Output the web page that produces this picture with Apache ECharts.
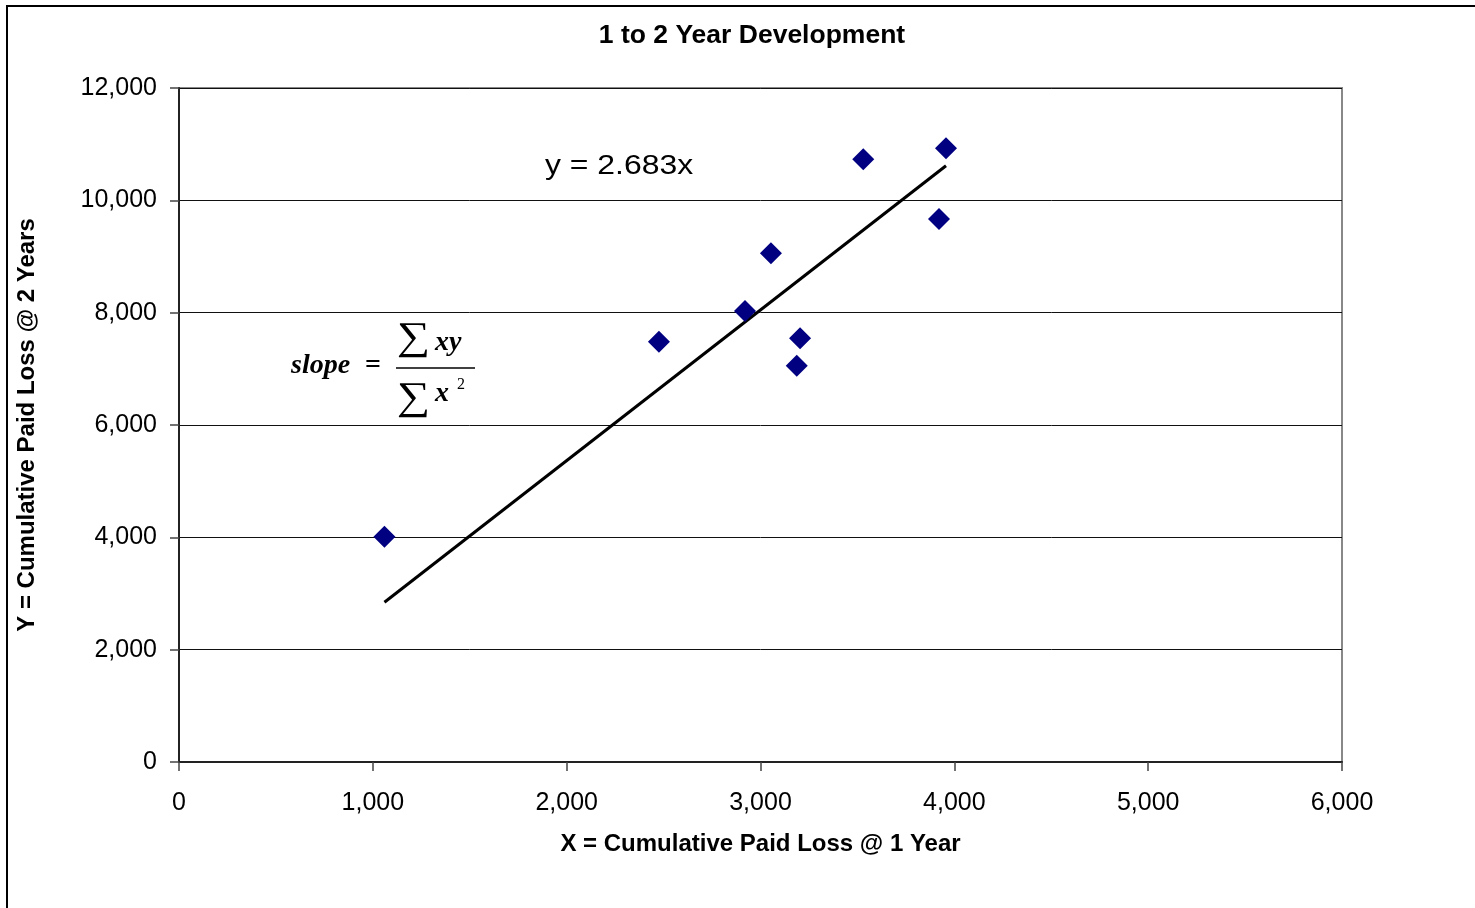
<!DOCTYPE html>
<html>
<head>
<meta charset="utf-8">
<script src="https://cdn.jsdelivr.net/npm/echarts@6/dist/echarts.min.js"></script>
<style>html,body{margin:0;padding:0;background:#fff}#chart{width:1475px;height:908px}</style>
</head>
<body>
<div id="chart"></div>
<script>
// Data
const xValues = [1060, 2476, 2920, 3054, 3204, 3187, 3530, 3921, 3957];
const yValues = [4010, 7483, 8030, 9057, 7544, 7056, 10731, 9668, 10926];
const slope = 2.683;
const xTicks = [0, 1000, 2000, 3000, 4000, 5000, 6000];
const yTicks = [0, 2000, 4000, 6000, 8000, 10000, 12000];
const titleText = '1 to 2 Year Development';
const xTitle = 'X = Cumulative Paid Loss @ 1 Year';
const yTitle = 'Y = Cumulative Paid Loss @ 2 Years';
const equationText = 'y = ' + slope + 'x';

const points = xValues.map((x, i) => [x, yValues[i]]);
const xMin = Math.min(...xValues), xMax = Math.max(...xValues);
const trend = [[xMin, slope * xMin], [xMax, slope * xMax]];
const fmt = v => String(v).replace(/\B(?=(\d{3})+(?!\d))/g, ',');

const SANS = 'Liberation Sans, Arial, sans-serif';
const SERIF = 'Liberation Serif, Times New Roman, serif';

const chart = echarts.init(document.getElementById('chart'), null, {renderer: 'canvas'});
chart.setOption({
  backgroundColor: '#fff',
  animation: false,
  title: {
    text: titleText, left: 747, top: 17, textAlign: 'center',
    textStyle: {fontFamily: SANS, fontSize: 26.5, fontWeight: 'bold', color: '#000'}
  },
  grid: {left: 179, top: 88, right: 133, bottom: 146, show: true, borderColor: '#888', borderWidth: 2, backgroundColor: 'transparent'},
  xAxis: {
    type: 'value', min: xTicks[0], max: xTicks[xTicks.length - 1], interval: 1000,
    name: xTitle, nameLocation: 'middle', nameGap: 70,
    nameTextStyle: {fontFamily: SANS, fontSize: 24, fontWeight: 'bold', color: '#000'},
    axisLine: {show: true, onZero: false, lineStyle: {color: '#222', width: 2}},
    axisTick: {show: true, inside: false, length: 9, lineStyle: {color: '#444', width: 1.5}},
    axisLabel: {fontFamily: SANS, fontSize: 25, color: '#000', margin: 29, formatter: fmt},
    splitLine: {show: false}
  },
  yAxis: {
    type: 'value', min: yTicks[0], max: yTicks[yTicks.length - 1], interval: 2000,
    name: yTitle, nameLocation: 'middle', nameGap: 140,
    nameTextStyle: {fontFamily: SANS, fontSize: 24, fontWeight: 'bold', color: '#000'},
    axisLine: {show: true, onZero: false, lineStyle: {color: '#222', width: 2}},
    axisTick: {show: true, inside: false, length: 9, lineStyle: {color: '#444', width: 1.5}},
    axisLabel: {fontFamily: SANS, fontSize: 25, color: '#000', margin: 22, formatter: fmt},
    splitLine: {show: true, lineStyle: {color: '#111', width: 1}}
  },
  series: [
    {
      type: 'line', data: trend, symbol: 'none', z: 2,
      lineStyle: {color: '#000', width: 3}
    },
    {
      type: 'scatter', data: points, symbol: 'diamond', symbolSize: 22, z: 3,
      itemStyle: {color: '#000080', opacity: 1}
    }
  ],
  graphic: [
    {type: 'rect', shape: {x: 7, y: 6, width: 1500, height: 1000}, style: {fill: 'none', stroke: '#000', lineWidth: 2}, z: -1, silent: true},
    {type: 'text', x: 545, y: 166, scaleX: 1.12, style: {text: equationText, font: '28.5px ' + SANS, fill: '#000', align: 'left', verticalAlign: 'middle'}},
    {type: 'text', x: 291, y: 366, style: {text: 'slope', font: 'italic bold 28px ' + SERIF, fill: '#000', align: 'left', verticalAlign: 'middle'}},
    {type: 'text', x: 365, y: 366, style: {text: '=', font: 'bold 28px ' + SERIF, fill: '#000', align: 'left', verticalAlign: 'middle'}},
    {type: 'text', x: 413.5, y: 339, scaleX: 1.2, style: {text: '\u2211', font: '39px ' + SERIF, fill: '#000', align: 'center', verticalAlign: 'middle'}},
    {type: 'text', x: 435, y: 343, style: {text: 'xy', font: 'italic bold 28px ' + SERIF, fill: '#000', align: 'left', verticalAlign: 'middle'}},
    {type: 'line', shape: {x1: 396, y1: 368, x2: 475, y2: 368}, style: {stroke: '#000', lineWidth: 1.5}},
    {type: 'text', x: 413.5, y: 399, scaleX: 1.2, style: {text: '\u2211', font: '39px ' + SERIF, fill: '#000', align: 'center', verticalAlign: 'middle'}},
    {type: 'text', x: 435, y: 394, style: {text: 'x', font: 'italic bold 28px ' + SERIF, fill: '#000', align: 'left', verticalAlign: 'middle'}},
    {type: 'text', x: 457, y: 385, style: {text: '2', font: '16px ' + SERIF, fill: '#000', align: 'left', verticalAlign: 'middle'}}
  ]
});
</script>
</body>
</html>
